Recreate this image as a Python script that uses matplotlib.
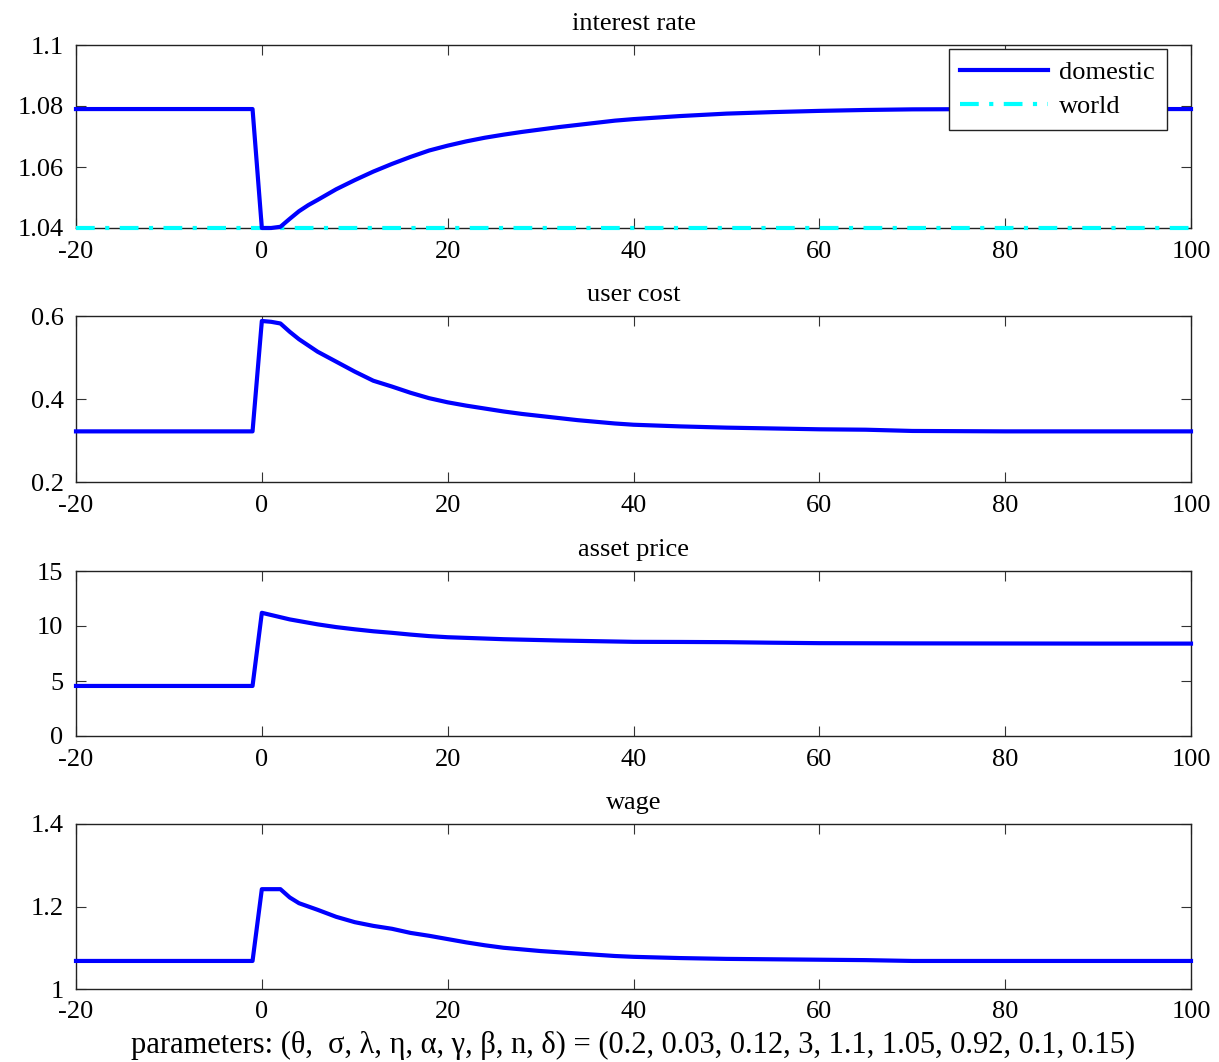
import matplotlib
matplotlib.use("Agg")
import matplotlib.pyplot as plt

plt.rcParams['font.family'] = ['Liberation Serif', 'DejaVu Serif']

t = [-20, -1, 0, 1, 2, 3, 4, 5, 6, 8, 10, 12, 14, 16, 18, 20, 22, 24, 26, 28,
     30, 32, 34, 36, 38, 40, 45, 50, 55, 60, 65, 70, 80, 90, 100]

rate_domestic = [1.0790, 1.0790, 1.0400, 1.0400, 1.0404, 1.0430, 1.0455, 1.0475,
                 1.0492, 1.0527, 1.0557, 1.0585, 1.0610, 1.0633, 1.0654, 1.0670,
                 1.0684, 1.0696, 1.0706, 1.0715, 1.0723, 1.0731, 1.0738, 1.0745,
                 1.0752, 1.0757, 1.0767, 1.0775, 1.0780, 1.0784, 1.0787, 1.0789,
                 1.0790, 1.0790, 1.0790]
rate_world = [1.04] * len(t)

user_cost = [0.322, 0.322, 0.588, 0.586, 0.582, 0.562, 0.544, 0.529, 0.514, 0.490,
             0.466, 0.444, 0.430, 0.415, 0.402, 0.392, 0.384, 0.377, 0.370, 0.364,
             0.359, 0.354, 0.349, 0.345, 0.341, 0.338, 0.334, 0.331, 0.329, 0.327,
             0.326, 0.323, 0.322, 0.322, 0.322]

asset_price = [4.55, 4.55, 11.2, 11.0, 10.8, 10.6, 10.45, 10.3, 10.15, 9.9,
               9.7, 9.52, 9.38, 9.22, 9.08, 8.98, 8.92, 8.86, 8.80, 8.76,
               8.72, 8.68, 8.65, 8.62, 8.59, 8.56, 8.55, 8.53, 8.48, 8.44,
               8.43, 8.42, 8.41, 8.40, 8.40]

wage = [1.068, 1.068, 1.242, 1.242, 1.242, 1.222, 1.208, 1.200, 1.192, 1.175,
        1.162, 1.153, 1.146, 1.136, 1.129, 1.121, 1.113, 1.106, 1.100, 1.096,
        1.092, 1.089, 1.086, 1.083, 1.080, 1.078, 1.075, 1.073, 1.072, 1.071,
        1.070, 1.068, 1.068, 1.068, 1.068]

titles = ["interest rate", "user cost", "asset price", "wage"]
xticks = [-20, 0, 20, 40, 60, 80, 100]
yticks = [[1.04, 1.06, 1.08, 1.1], [0.2, 0.4, 0.6], [0, 5, 10, 15], [1, 1.2, 1.4]]
yticklabels = [["1.04", "1.06", "1.08", "1.1"], ["0.2", "0.4", "0.6"],
               ["0", "5", "10", "15"], ["1", "1.2", "1.4"]]

W, H = 1219, 1062
fig = plt.figure(figsize=(W / 100, H / 100), dpi=100)

# panel boxes in pixels: (top, bottom)
boxes = [(45, 228), (316, 482), (571, 736), (824, 989)]
left, right = 76, 1191
fs = 19

axes = []
for (top, bot) in boxes:
    ax = fig.add_axes([left / W, 1 - bot / H, (right - left) / W, (bot - top) / H])
    axes.append(ax)

series = [rate_domestic, user_cost, asset_price, wage]
for i, ax in enumerate(axes):
    ax.plot(t, series[i], color='#0000ff', lw=3, solid_joinstyle='round',
            label='domestic', zorder=4, clip_on=False)
    if i == 0:
        ax.plot(t, rate_world, color='#00ffff', lw=3, ls=(0, (4.5, 2.5, 1, 2.5)),
                label='world', zorder=3, clip_on=False)
    ax.set_xlim(-20, 100)
    ax.set_ylim(yticks[i][0], yticks[i][-1])
    ax.set_xticks(xticks)
    ax.set_xticklabels([str(v) for v in xticks])
    ax.set_yticks(yticks[i])
    ax.set_yticklabels(yticklabels[i])
    ax.tick_params(direction='in', top=True, right=True, length=7, width=0.8,
                   labelsize=fs, color='#333333')
    ax.tick_params(axis='x', pad=9)
    ax.tick_params(axis='y', pad=9)
    for s in ax.spines.values():
        s.set_linewidth(1.0)
        s.set_color('#222222')
    ax.set_title(titles[i], fontsize=fs, pad=11)

leg = axes[0].legend(loc='upper right', bbox_to_anchor=(0.9785, 0.978), fontsize=fs,
                     handlelength=3.3, handletextpad=0.45, borderpad=0.45,
                     labelspacing=0.4, borderaxespad=0, fancybox=False, framealpha=1,
                     edgecolor='#222222')
leg.get_frame().set_linewidth(1.0)

axes[3].set_xlabel("parameters: (θ,  σ, λ, η, α, γ, β, n, δ) = "
                   "(0.2, 0.03, 0.12, 3, 1.1, 1.05, 0.92, 0.1, 0.15)",
                   fontsize=22, labelpad=5)

fig.savefig("out.png", dpi=100)
